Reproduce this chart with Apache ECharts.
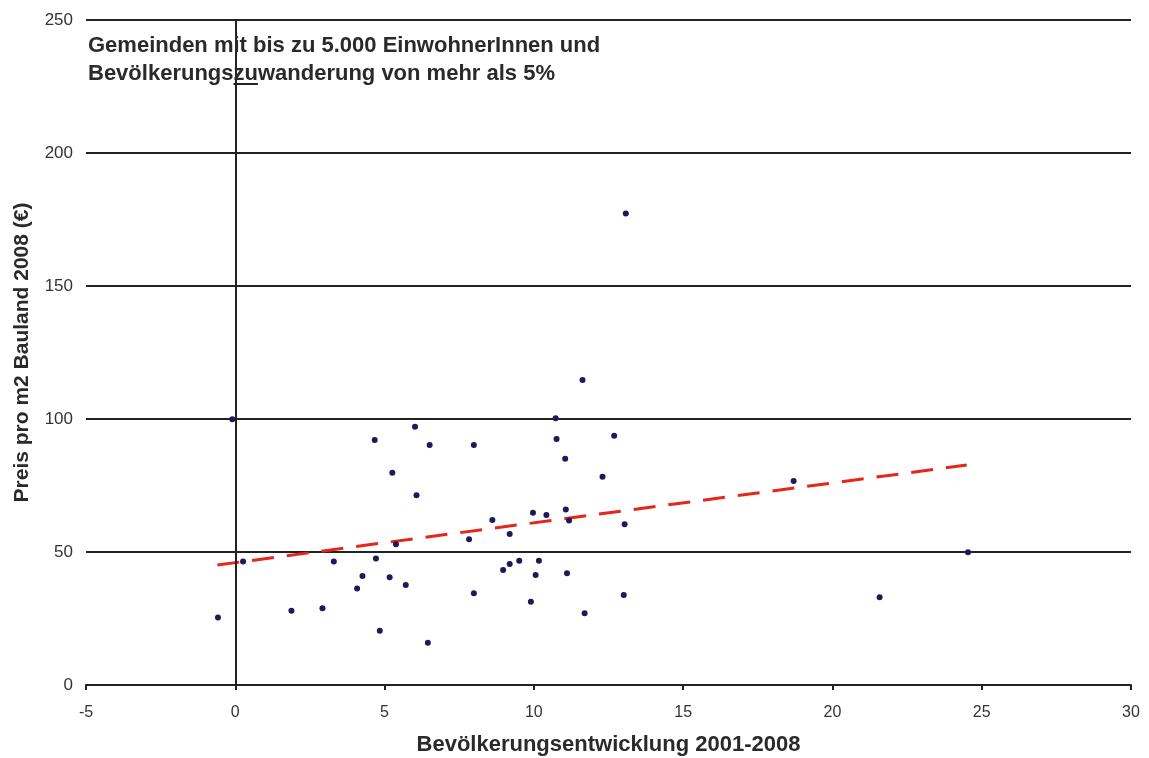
<!DOCTYPE html>
<html>
<head>
<meta charset="utf-8">
<script src="https://cdn.jsdelivr.net/npm/echarts@6/dist/echarts.min.js"></script>
<style>
	html, body { margin: 0; padding: 0; background: #fff; }
	#main { width: 1149px; height: 758px; }
</style>
</head>
<body>
<div id="main"></div>
<script>
// Bevölkerungsentwicklung 2001-2008 (%)
var popChange = [
	-0.58, 0.26, 1.88, 2.92, 3.30, 4.26, 4.08, 4.67, 4.71, 4.84,
	5.17, 5.26, 5.38, 5.71, 6.02, 6.07, 6.51, 6.45, 7.83, 7.99,
	7.99, 8.61, 9.19, 9.97, 10.42, 11.07, 11.18, 13.04, 8.97, 9.19,
	9.51, 10.17, 10.06, 11.11, 9.90, 11.70, 13.01, 11.63, 10.73, 10.76,
	12.69, 11.05, 12.30, 13.08, 18.70, 21.58, 24.54, -0.10
];
// Preis pro m2 Bauland 2008 (€)
var price = [
	25.4, 46.4, 27.9, 28.9, 46.4, 41.0, 36.3, 92.1, 47.6, 20.4,
	40.5, 79.8, 52.9, 37.6, 97.1, 71.3, 90.2, 15.9, 54.8, 34.5,
	90.2, 62.0, 56.8, 64.8, 63.9, 66.0, 61.8, 60.4, 43.2, 45.5,
	46.7, 46.7, 41.4, 42.0, 31.3, 27.0, 33.8, 114.7, 100.3, 92.5,
	93.7, 85.1, 78.3, 177.3, 76.7, 33.0, 49.9, 99.9
];
// linearer Trend (Endpunkte)
var trendX = [-0.6, 24.5];
var trendY = [45.1, 82.7];
var xTicks = [-5, 30, 5];
var yTicks = [0, 250, 50];

var points = popChange.map(function (x, i) {
	return [x, price[i]];
});
var trend = trendX.map(function (x, i) {
	return [x, trendY[i]];
});

var myChart = echarts.init(document.getElementById("main"), null, {
	renderer: "canvas"
});
// Unterstreichung für "zu"
var underline = new echarts.graphic.LinearGradient(0, 0, 0, 1, [
	{ offset: 0, color: "rgba(0,0,0,0)" },
	{ offset: 0.92, color: "rgba(0,0,0,0)" },
	{ offset: 0.92, color: "#222" },
	{ offset: 1, color: "#222" }
]);
var option = {
	backgroundColor: "#fff",
	animation: false,
	title: {
		text: "Gemeinden mit bis zu 5.000 EinwohnerInnen und\nBevölkerungs{u|zu}wanderung von mehr als 5%",
		left: 83,
		top: 27,
		textStyle: {
			fontFamily: "Liberation Sans",
			fontSize: 22,
			fontWeight: "bold",
			color: "#2a2a2a",
			lineHeight: 28,
			rich: {
				u: {
					fontFamily: "Liberation Sans",
					fontSize: 22,
					fontWeight: "bold",
					color: "#2a2a2a",
					lineHeight: 28,
					backgroundColor: underline,
					padding: [0, 0, 0, 0]
				}
			}
		}
	},
	grid: {
		left: 86,
		right: 18,
		top: 20,
		bottom: 73,
		outerBoundsMode: "none"
	},
	xAxis: {
		type: "value",
		min: xTicks[0],
		max: xTicks[1],
		interval: xTicks[2],
		name: "Bevölkerungsentwicklung 2001-2008",
		nameLocation: "middle",
		nameGap: 49,
		nameTextStyle: {
			fontFamily: "Liberation Sans",
			fontSize: 22,
			fontWeight: "bold",
			color: "#2a2a2a"
		},
		axisLine: { onZero: false, lineStyle: { color: "#222", width: 2 } },
		axisTick: { show: true, length: 5, lineStyle: { color: "#222", width: 2 } },
		axisLabel: {
			margin: 20,
			fontFamily: "Liberation Sans",
			fontSize: 16,
			color: "#333"
		},
		splitLine: { show: false }
	},
	yAxis: {
		type: "value",
		min: yTicks[0],
		max: yTicks[1],
		interval: yTicks[2],
		name: "Preis pro m2 Bauland 2008 (€)",
		nameLocation: "middle",
		nameGap: 53,
		nameTextStyle: {
			fontFamily: "Liberation Sans",
			fontSize: 21,
			fontWeight: "bold",
			color: "#2a2a2a"
		},
		axisLine: { show: false },
		axisTick: { show: true, length: 4, lineStyle: { color: "#222", width: 2 } },
		axisLabel: {
			margin: 13,
			fontFamily: "Liberation Sans",
			fontSize: 17,
			color: "#333"
		},
		splitLine: { lineStyle: { color: "#222", width: 2 } }
	},
	series: [
		{
			type: "scatter",
			data: points,
			symbol: "circle",
			symbolSize: 6,
			itemStyle: { color: "#1c1a58", opacity: 1 },
			z: 4,
			markLine: {
				silent: true,
				symbol: "none",
				label: { show: false },
				lineStyle: { color: "#222", width: 2, type: "solid" },
				data: [{ xAxis: 0 }]
			}
		},
		{
			type: "line",
			data: trend,
			symbol: "none",
			lineStyle: { color: "#e4261b", width: 3, type: [22, 13] },
			z: 3
		}
	]
};
myChart.setOption(option);
window.addEventListener("resize", myChart.resize);
</script>
</body>
</html>
